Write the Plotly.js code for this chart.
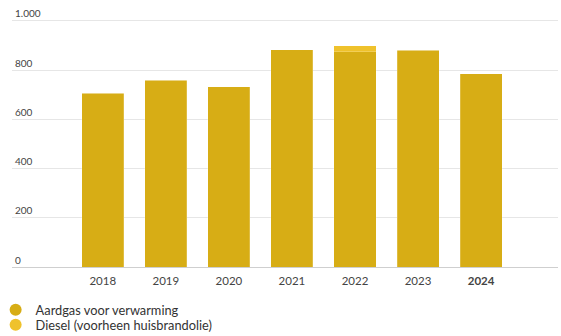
<!DOCTYPE html>
<html><head><meta charset="utf-8">
<script src="https://cdn.plot.ly/plotly-3.0.1.min.js"></script>
<style>html,body{margin:0;padding:0;background:#fff}#c{width:561px;height:336px}</style>
</head><body><div id="c"></div>
<script>
const years = ['2018','2019','2020','2021','2022','2023','2024'];
const yearLabels = ['2018','2019','2020','2021','2022','2023','<b>2024</b>'];
const aardgas = [707, 760, 732, 884, 876, 881, 785];
const diesel = [0, 0, 0, 0, 24, 0, 0];
const seriesNames = ['Aardgas voor verwarming', 'Diesel (voorheen huisbrandolie)'];
const colors = ['#d7ad15', '#efc22c'];
const yTicks = [0, 200, 400, 600, 800, 1000];
const yTickText = ['0', '200', '400', '600', '800', '1.000'];

const traces = [
  {type:'bar', x:years, y:aardgas, marker:{color:colors[0], line:{color:'rgba(255,255,255,0.4)', width:0.5}}, showlegend:false, hoverinfo:'y'},
  {type:'bar', x:years, y:diesel, marker:{color:colors[1], line:{color:'rgba(255,255,255,0.4)', width:0.5}}, showlegend:false, hoverinfo:'y'},
  {type:'scatter', mode:'markers', x:[null], y:[null], name:seriesNames[0], legend:'legend', marker:{color:colors[0], size:8, symbol:'circle'}},
  {type:'scatter', mode:'markers', x:[null], y:[null], name:seriesNames[1], legend:'legend2', marker:{color:colors[1], size:8, symbol:'circle'}}
];
const legBase = {orientation:'v', xref:'paper', yref:'container', x:-0.03, xanchor:'left', yanchor:'middle',
  font:{size:12.8, color:'#333'}, itemsizing:'constant', bgcolor:'rgba(0,0,0,0)'};
const layout = {
  width:561, height:336,
  margin:{l:12, r:3, t:5, b:69, autoexpand:false},
  barmode:'stack', bargap:0.333,
  paper_bgcolor:'#fff', plot_bgcolor:'#fff',
  font:{family:'Lato, "Noto Sans", sans-serif', size:11, color:'#333'},
  xaxis:{type:'category', range:[-1.44, 7.22], tickvals:years, ticktext:yearLabels, showgrid:false, zeroline:false,
         showline:false, ticks:'outside', ticklen:3, tickcolor:'rgba(0,0,0,0)', tickfont:{size:11.5, color:'#444'}, fixedrange:true},
  yaxis:{range:[0,1065], tickvals:yTicks, ticktext:yTickText, ticklabelposition:'inside top', showgrid:true,
         gridcolor:'#e6e6e6', gridwidth:1, zeroline:true, zerolinecolor:'#cfcfcf', zerolinewidth:1,
         tickfont:{size:10, color:'#444'}, ticks:'', fixedrange:true},
  legend:Object.assign({}, legBase, {y:1-310/336}),
  legend2:Object.assign({}, legBase, {y:1-325/336}),
  showlegend:true
};
Plotly.newPlot('c', traces, layout, {displayModeBar:false, staticPlot:true});
</script></body></html>
